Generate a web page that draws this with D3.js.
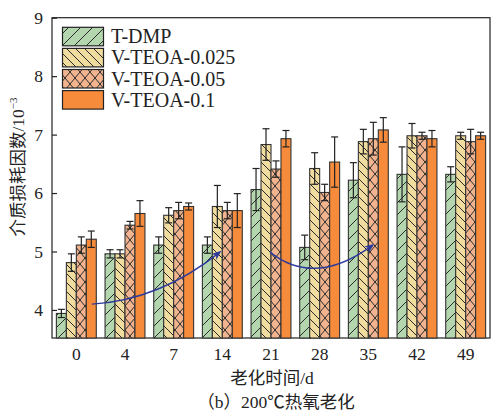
<!DOCTYPE html>
<html><head><meta charset="utf-8">
<script src="https://cdn.jsdelivr.net/npm/d3@7"></script>
<style>body{margin:0;background:#fff}svg{display:block}</style>
</head><body>
<svg id="c" width="491" height="412"></svg>
<script>
const categories = ["0","4","7","14","21","28","35","42","49"];
const seriesNames = ["T-DMP","V-TEOA-0.025","V-TEOA-0.05","V-TEOA-0.1"];
const tdmp      = [3.94,4.96,5.11,5.11,6.06,5.07,6.22,6.32,6.32];
const v0025     = [4.81,4.96,5.62,5.77,6.83,6.42,6.88,6.98,6.98];
const v005      = [5.11,5.45,5.70,5.70,6.41,6.01,6.93,6.98,6.88];
const v01       = [5.21,5.65,5.77,5.70,6.93,6.53,7.08,6.93,6.98];
const tdmpErr   = [0.07,0.07,0.14,0.14,0.36,0.21,0.30,0.47,0.13];
const v0025Err  = [0.15,0.07,0.13,0.36,0.27,0.27,0.21,0.21,0.06];
const v005Err   = [0.14,0.065,0.14,0.14,0.14,0.14,0.28,0.06,0.21];
const v01Err    = [0.14,0.22,0.06,0.29,0.14,0.43,0.21,0.14,0.06];
const yTicks = [4,5,6,7,8,9];
// annotation arrows in data units: [category position, value]
const arrow1 = [[0.32,4.10],[1.72,4.17],[2.95,4.99]];
const arrow2 = [[3.98,4.99],[4.90,4.38],[6.09,5.11]];

const values = [tdmp,v0025,v005,v01];
const errs = [tdmpErr,v0025Err,v005Err,v01Err];
const fills = ["#b4d6ae","#f1dc9f","#f1b48e","#f58b3b"];
const patterns = ["pGreen","pYellow","pCross",null];

const svg = d3.select("#c");
const L=52,R=490,T=17.7,B=338;
const x = d3.scaleBand().domain(categories).range([L,R]).paddingInner(0.18).paddingOuter(0.09);
const xs = d3.scaleBand().domain(seriesNames).range([0,x.bandwidth()]);
const y = d3.scaleLinear().domain([3.52,9]).range([B,T]);
const xPos = v => L + (v+0.5)*x.step();

const defs = svg.append("defs");
function pat(id, size, color, lines){
  const p = defs.append("pattern").attr("id",id).attr("patternUnits","userSpaceOnUse")
    .attr("width",size[0]).attr("height",size[1]);
  p.append("rect").attr("width",size[0]).attr("height",size[1]).attr("fill",color);
  lines.forEach(l=>p.append("line").attr("x1",l[0]).attr("y1",l[1]).attr("x2",l[2]).attr("y2",l[3])
    .attr("stroke","#2a2a2a").attr("stroke-width",1));
}
pat("pGreen",[12,12],fills[0],[[-1,13,13,-1],[-4,4,4,-4],[8,16,16,8]]);
pat("pYellow",[9,9],fills[1],[[-1,-1,10,10],[-4,5,4,13],[5,-4,13,4]]);
pat("pCross",[10,12],fills[2],[[0,0,10,12],[10,0,0,12]]);
const fillOf = i => patterns[i] ? `url(#${patterns[i]})` : fills[i];

// frame
svg.append("rect").attr("x",L).attr("y",T).attr("width",R-L).attr("height",B-T)
  .attr("fill","none").attr("stroke","#222").attr("stroke-width",1.2);

// y axis ticks inward
const yAxis = d3.axisLeft(y).tickValues(yTicks).tickSize(-5).tickPadding(9).tickFormat(d3.format("d"));
const ga = svg.append("g").attr("transform",`translate(${L},0)`).call(yAxis);
ga.select(".domain").remove();
ga.selectAll("line").attr("stroke","#222").attr("stroke-width",1.2);
ga.selectAll("text").attr("font-family","'Liberation Serif',serif").attr("font-size",17.5).attr("fill","#222");

// x labels
const xAxis = d3.axisBottom(x).tickSize(0).tickPadding(10);
const gx = svg.append("g").attr("transform",`translate(0,${B})`).call(xAxis);
gx.select(".domain").remove();
gx.selectAll("text").attr("font-family","'Liberation Serif',serif").attr("font-size",17.5).attr("fill","#222");

// bars
const g = svg.append("g");
seriesNames.forEach((s,i)=>{
  categories.forEach((c,j)=>{
    const bx = x(c)+xs(s), w = xs.bandwidth(), v = values[i][j];
    g.append("rect").attr("x",bx).attr("y",y(v)).attr("width",w).attr("height",B-y(v))
      .attr("fill",fillOf(i)).attr("stroke","#333").attr("stroke-width",1.1);
  });
});
// error bars
seriesNames.forEach((s,i)=>{
  categories.forEach((c,j)=>{
    const cx = x(c)+xs(s)+xs.bandwidth()/2, v = values[i][j], e = errs[i][j];
    const y1=y(v+e), y2=y(v-e);
    g.append("line").attr("x1",cx).attr("x2",cx).attr("y1",y1).attr("y2",y2).attr("stroke","#222").attr("stroke-width",1.2);
    [y1,y2].forEach(yy=>g.append("line").attr("x1",cx-3.5).attr("x2",cx+3.5).attr("y1",yy).attr("y2",yy)
      .attr("stroke","#222").attr("stroke-width",1.2));
  });
});

// arrows
defs.append("marker").attr("id","ah").attr("viewBox","0 0 10 10").attr("refX",8).attr("refY",5)
  .attr("markerWidth",7).attr("markerHeight",7).attr("orient","auto")
  .append("path").attr("d","M0,1 L10,5 L0,9 L3,5 Z").attr("fill","#2d3a9c");
[arrow1,arrow2].forEach(a=>{
  const p = a.map(d=>[xPos(d[0]),y(d[1])]);
  svg.append("path").attr("d",`M${p[0]}Q${p[1]} ${p[2]}`).attr("fill","none")
    .attr("stroke","#2d3a9c").attr("stroke-width",1.4).attr("marker-end","url(#ah)");
});

// legend
const lg = svg.append("g");
seriesNames.forEach((s,i)=>{
  const yy = 27.3 + i*21.1;
  lg.append("rect").attr("x",62.5).attr("y",yy).attr("width",41).attr("height",18.5)
    .attr("fill",fillOf(i)).attr("stroke","#222").attr("stroke-width",1.2);
  lg.append("text").attr("x",111).attr("y",yy+16).text(s)
    .attr("font-family","'Liberation Serif',serif").attr("font-size",20).attr("fill","#222");
});

// titles
const cjk = "'Liberation Serif','Noto Sans CJK SC',serif";
const yt = svg.append("text").attr("transform","translate(24,167) rotate(-90)").attr("text-anchor","middle")
  .attr("font-family",cjk).attr("font-size",17.5).attr("fill","#222");
yt.append("tspan").text("介质损耗因数/10");
yt.append("tspan").text("−3").attr("font-size",11).attr("dy",-7);
svg.append("text").attr("x",272).attr("y",384).attr("text-anchor","middle")
  .attr("font-family",cjk).attr("font-size",17.5).attr("fill","#222").text("老化时间/d");
const cap = svg.append("text").attr("x",276).attr("y",408).attr("text-anchor","middle")
  .attr("font-family",cjk).attr("font-size",17.5).attr("fill","#222");
cap.append("tspan").text("（b）200");
cap.append("tspan").attr("font-family","'Noto Sans CJK SC',sans-serif").text("℃热氧老化");
</script>
</body></html>
